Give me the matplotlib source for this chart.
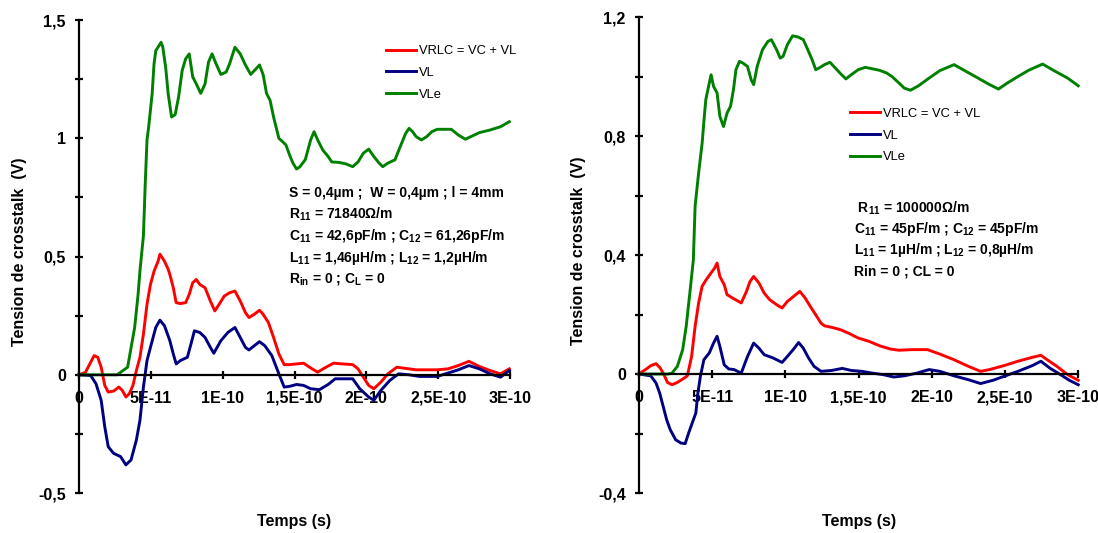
#!/usr/bin/env python3
"""Crosstalk voltage vs time, two parameter sets side by side."""

import numpy as np
import matplotlib
matplotlib.use("Agg")
import matplotlib.pyplot as plt

plt.rcParams["font.family"] = ["Liberation Sans", "DejaVu Sans"]
plt.rcParams["mathtext.fontset"] = "custom"
plt.rcParams["mathtext.rm"] = "Liberation Sans:bold"
plt.rcParams["mathtext.it"] = "Liberation Sans:bold"
plt.rcParams["mathtext.bf"] = "Liberation Sans:bold"

T_UNIT = 1e-11  # time arrays below are in units of 1E-11 s

# ---- left panel -------------------------------------------------------
left_vle_t = [0, 2.65, 3.38, 3.87, 4.11, 4.24, 4.48, 4.60, 4.73, 4.85, 5.09, 5.22, 5.34, 5.71,
              5.83, 6.03, 6.20, 6.44, 6.69, 6.93, 7.18, 7.42, 7.67, 7.91, 8.16, 8.47, 8.77, 9.01,
              9.26, 9.50, 9.87, 10.24, 10.48, 10.85, 11.22, 11.58, 11.95, 12.32, 12.56, 12.81,
              13.05, 13.30, 13.54, 13.91, 14.16, 14.40, 14.65, 14.89, 15.14, 15.38, 15.75, 16.12,
              16.36, 16.61, 16.97, 17.34, 17.59, 18.08, 18.56, 19.05, 19.42, 19.79, 20.16, 20.52,
              20.89, 21.14, 21.50, 21.99, 22.36, 22.73, 22.97, 23.22, 23.46, 23.83, 24.20, 24.56,
              24.93, 25.91, 26.40, 26.89, 27.38, 27.87, 28.61, 29.34, 29.95]
left_vle = [0, 0, 0.032, 0.2, 0.34, 0.44, 0.587, 0.797, 0.993, 1.05, 1.19, 1.315, 1.37, 1.406,
            1.385, 1.30, 1.19, 1.09, 1.10, 1.175, 1.287, 1.336, 1.357, 1.26, 1.23, 1.19, 1.23,
            1.322, 1.357, 1.32, 1.27, 1.28, 1.315, 1.385, 1.357, 1.31, 1.27, 1.294, 1.31, 1.27,
            1.19, 1.16, 1.09, 1.0, 0.986, 0.972, 0.93, 0.895, 0.87, 0.88, 0.91, 0.993, 1.028,
            0.993, 0.95, 0.923, 0.9, 0.898, 0.892, 0.88, 0.9, 0.937, 0.954, 0.923, 0.895, 0.88,
            0.895, 0.909, 0.965, 1.02, 1.042, 1.028, 1.007, 0.993, 1.007, 1.028, 1.038, 1.038,
            1.014, 0.996, 1.01, 1.024, 1.035, 1.049, 1.07]

left_vrlc_t = [0, 0.44, 0.81, 1.05, 1.30, 1.54, 1.79, 2.03, 2.40, 2.77, 3.01, 3.26, 3.50, 3.75,
               3.99, 4.24, 4.48, 4.73, 4.97, 5.22, 5.50, 5.63, 5.93, 6.20, 6.32, 6.56, 6.76, 7.05,
               7.42, 7.67, 7.91, 8.16, 8.40, 8.77, 9.14, 9.45, 9.75, 10.11, 10.48, 10.85, 11.22,
               11.58, 11.83, 12.20, 12.56, 12.81, 13.18, 13.54, 13.91, 14.28, 14.65, 15.14, 15.63,
               16.12, 16.61, 17.10, 17.71, 18.32, 19.05, 19.42, 19.79, 20.16, 20.52, 21.01, 21.50,
               22.12, 22.48, 23.46, 24.93, 25.67, 26.40, 27.14, 27.87, 28.61, 29.34, 29.95]
left_vrlc = [0, 0.01, 0.053, 0.081, 0.074, 0.032, -0.045, -0.073, -0.069, -0.052, -0.066, -0.094,
             -0.08, -0.045, 0.018, 0.074, 0.172, 0.298, 0.382, 0.438, 0.48, 0.51, 0.482, 0.447,
             0.424, 0.368, 0.305, 0.301, 0.305, 0.34, 0.389, 0.403, 0.382, 0.368, 0.312, 0.27,
             0.298, 0.333, 0.347, 0.354, 0.312, 0.263, 0.242, 0.256, 0.273, 0.256, 0.221, 0.158,
             0.088, 0.043, 0.043, 0.046, 0.049, 0.029, 0.011, 0.029, 0.049, 0.046, 0.043, 0.025,
             -0.01, -0.045, -0.059, -0.031, 0.004, 0.032, 0.029, 0.021, 0.021, 0.025, 0.039, 0.057,
             0.035, 0.018, 0.004, 0.025]

left_vl_t = [0, 0.81, 1.18, 1.54, 1.79, 2.03, 2.40, 2.89, 3.26, 3.62, 3.99, 4.24, 4.48, 4.73,
             4.97, 5.34, 5.63, 5.95, 6.32, 6.56, 6.76, 7.05, 7.54, 7.79, 8.03, 8.40, 8.77, 9.14,
             9.38, 9.87, 10.36, 10.85, 11.22, 11.58, 11.83, 12.20, 12.56, 12.93, 13.42, 13.91,
             14.28, 14.65, 15.14, 15.63, 16.12, 16.73, 17.34, 17.83, 18.56, 19.05, 19.54, 20.16,
             20.52, 21.01, 21.63, 22.24, 22.97, 23.71, 24.93, 25.67, 26.40, 27.14, 27.87, 28.61,
             29.34, 29.95]
left_vl = [0, -0.003, -0.038, -0.108, -0.22, -0.304, -0.332, -0.346, -0.381, -0.36, -0.276,
           -0.192, -0.052, 0.06, 0.116, 0.2, 0.231, 0.207, 0.144, 0.088, 0.046, 0.06, 0.074, 0.13,
           0.186, 0.179, 0.158, 0.116, 0.091, 0.144, 0.179, 0.2, 0.158, 0.116, 0.105, 0.123, 0.14,
           0.123, 0.081, 0.004, -0.052, -0.049, -0.041, -0.045, -0.059, -0.063, -0.041, -0.017,
           -0.017, -0.017, -0.059, -0.094, -0.108, -0.066, -0.024, 0.004, 0, -0.007, -0.007,
           0.007, 0.021, 0.039, 0.025, 0.004, -0.01, 0.018]

# ---- right panel ------------------------------------------------------
right_vle_t = [0, 2.0, 2.25, 2.62, 2.98, 3.22, 3.47, 3.71, 3.83, 4.07, 4.31, 4.43, 4.56, 4.75,
               4.92, 5.09, 5.33, 5.52, 5.77, 6.01, 6.25, 6.45, 6.62, 6.86, 7.10, 7.41, 7.66, 7.83,
               8.07, 8.43, 8.80, 9.04, 9.40, 9.64, 9.84, 10.13, 10.49, 10.86, 11.22, 11.53, 11.82,
               12.07, 12.31, 12.67, 13.04, 13.40, 13.76, 14.13, 14.49, 14.97, 15.46, 15.94, 16.43,
               16.91, 17.28, 17.76, 18.12, 18.54, 19.09, 19.82, 20.55, 21.52, 22.24, 22.97, 23.94,
               24.55, 25.15, 25.88, 26.61, 27.57, 28.30, 29.27, 30.0]
right_vle = [0, 0, 0.003, 0.026, 0.082, 0.16, 0.272, 0.384, 0.564, 0.676, 0.776, 0.849, 0.922,
             0.967, 1.006, 0.967, 0.945, 0.866, 0.832, 0.877, 0.9, 0.956, 1.023, 1.051, 1.045,
             1.034, 0.989, 0.973, 1.034, 1.09, 1.118, 1.124, 1.09, 1.062, 1.068, 1.107, 1.137,
             1.133, 1.124, 1.09, 1.057, 1.023, 1.029, 1.04, 1.048, 1.029, 1.01, 0.992, 1.006,
             1.023, 1.031, 1.026, 1.021, 1.012, 1.0, 0.978, 0.961, 0.954, 0.969, 0.995, 1.02,
             1.04, 1.02, 1.0, 0.973, 0.958, 0.978, 1.0, 1.021, 1.042, 1.021, 0.995, 0.969]

right_vrlc_t = [0, 0.44, 0.80, 1.16, 1.45, 1.70, 1.94, 2.25, 2.62, 2.98, 3.30, 3.59, 3.83, 4.07,
                4.31, 4.56, 4.92, 5.16, 5.33, 5.52, 5.82, 6.01, 6.37, 6.98, 7.34, 7.58, 7.83, 8.19,
                8.55, 8.92, 9.40, 9.77, 10.13, 10.56, 10.98, 11.34, 11.70, 12.07, 12.43, 12.67,
                13.16, 13.76, 14.37, 14.97, 15.70, 16.43, 17.16, 17.76, 18.61, 19.70, 20.55, 21.52,
                22.49, 23.33, 23.94, 24.91, 25.88, 26.85, 27.45, 27.82, 28.54, 29.27, 30.0]
right_vrlc = [0, 0.015, 0.028, 0.035, 0.02, -0.002, -0.028, -0.036, -0.028, -0.017, -0.006,
              0.059, 0.16, 0.239, 0.295, 0.315, 0.34, 0.356, 0.373, 0.328, 0.3, 0.267, 0.256,
              0.239, 0.278, 0.311, 0.328, 0.306, 0.272, 0.25, 0.233, 0.222, 0.244, 0.261, 0.278,
              0.256, 0.227, 0.199, 0.171, 0.162, 0.157, 0.149, 0.136, 0.121, 0.11, 0.095, 0.084,
              0.08, 0.082, 0.082, 0.067, 0.048, 0.026, 0.009, 0.015, 0.028, 0.043, 0.056, 0.063,
              0.05, 0.026, -0.002, -0.021]

right_vl_t = [0, 0.80, 1.16, 1.41, 1.65, 1.89, 2.13, 2.50, 2.86, 3.15, 3.39, 3.63, 3.88, 4.02,
              4.19, 4.43, 4.80, 5.09, 5.33, 5.52, 5.82, 6.13, 6.49, 6.98, 7.41, 7.83, 8.19, 8.55,
              9.16, 9.77, 10.13, 10.61, 10.90, 11.22, 11.58, 11.95, 12.43, 13.16, 13.88, 14.49,
              15.22, 15.94, 16.67, 17.40, 18.12, 18.97, 19.82, 20.55, 21.52, 22.49, 23.33, 24.18,
              24.91, 25.88, 26.85, 27.45, 28.06, 28.79, 29.39, 30.0]
right_vl = [0, -0.006, -0.03, -0.064, -0.109, -0.154, -0.187, -0.221, -0.232, -0.234, -0.198,
            -0.165, -0.131, -0.064, -0.008, 0.048, 0.071, 0.104, 0.127, 0.093, 0.031, 0.017,
            0.015, 0.003, 0.059, 0.104, 0.087, 0.065, 0.054, 0.039, 0.059, 0.087, 0.106, 0.087,
            0.054, 0.026, 0.009, 0.012, 0.019, 0.012, 0.009, 0.003, -0.002, -0.01, -0.006, 0.003,
            0.015, 0.009, -0.006, -0.019, -0.032, -0.021, -0.008, 0.009, 0.028, 0.043, 0.02,
            -0.002, -0.021, -0.036]

# ---- ticks and text ---------------------------------------------------
x_ticks = [0, 5e-11, 1e-10, 1.5e-10, 2e-10, 2.5e-10, 3e-10]
x_tick_labels = ["0", "5E-11", "1E-10", "1,5E-10", "2E-10", "2,5E-10", "3E-10"]

left_y_ticks = [-0.5, 0, 0.5, 1, 1.5]
left_y_labels = ["-0,5", "0", "0,5", "1", "1,5"]
left_y_minor = [-0.25, 0.25, 0.75, 1.25]

right_y_ticks = [-0.4, 0, 0.4, 0.8, 1.2]
right_y_labels = ["-0,4", "0", "0,4", "0,8", "1,2"]
right_y_minor = [-0.2, 0.2, 0.6, 1.0]

series_labels = ["VRLC = VC + VL", "VL", "VLe"]
series_colors = ["#FF0000", "#000080", "#008000"]

left_notes = [
    "S = 0,4µm ;  W = 0,4µm ; l = 4mm",
    r"R$_{11}$ = 71840Ω/m",
    r"C$_{11}$ = 42,6pF/m ; C$_{12}$ = 61,26pF/m",
    r"L$_{11}$ = 1,46µH/m ; L$_{12}$ = 1,2µH/m",
    r"R$_{in}$ = 0 ; C$_{L}$ = 0",
]
right_notes = [
    r" R$_{11}$ = 100000Ω/m",
    r"C$_{11}$ = 45pF/m ; C$_{12}$ = 45pF/m",
    r"L$_{11}$ = 1µH/m ; L$_{12}$ = 0,8µH/m",
    "Rin = 0 ; CL = 0",
]


def draw_panel(ax, curves, ylim, yticks, ylabels, yminor, leg_xy, notes, note_x, note_y0, note_dy):
    for (t, v), lab, col in zip(curves, series_labels, series_colors):
        ax.plot(np.array(t) * T_UNIT, v, color=col, lw=2.1, label=lab,
                solid_joinstyle="round", clip_on=False)

    ax.set_xlim(0, 3e-10)
    ax.set_ylim(*ylim)
    ax.spines["top"].set_visible(False)
    ax.spines["right"].set_visible(False)
    ax.spines["bottom"].set_position(("data", 0))
    for s in ("left", "bottom"):
        ax.spines[s].set_linewidth(1.6)

    ax.set_xticks(x_ticks)
    ax.set_xticklabels(x_tick_labels, fontsize=11.5, fontweight="bold")
    ax.set_yticks(yticks)
    ax.set_yticklabels(ylabels, fontsize=11.5, fontweight="bold")
    ax.set_yticks(yminor, minor=True)
    ax.tick_params(axis="both", which="both", direction="inout", length=6, width=1.6)
    ax.tick_params(axis="x", pad=8.5)
    ax.tick_params(axis="y", pad=6.5)

    ax.set_xlabel("Temps (s)", fontsize=11.5, fontweight="bold")
    ax.xaxis.set_label_coords(0.5, -0.044)
    ax.set_ylabel("Tension de crosstalk  (V)", fontsize=11.5, fontweight="bold")
    ax.yaxis.set_label_coords(-0.12, 0.51)

    ax.legend(loc="upper left", bbox_to_anchor=leg_xy, frameon=False, fontsize=9.3,
              handlelength=2.3, handletextpad=0.25, labelspacing=0.75,
              borderpad=0, borderaxespad=0)

    for i, line in enumerate(notes):
        ax.text(note_x, note_y0 - i * note_dy, line, transform=ax.transAxes,
                fontsize=10, fontweight="bold", va="center", ha="left")


fig = plt.figure(figsize=(10.98, 5.33), dpi=100)
ax_l = fig.add_axes([0.072, 0.075, 0.3925, 0.8874])
ax_r = fig.add_axes([0.582, 0.075, 0.40, 0.893])

draw_panel(ax_l,
           [(left_vrlc_t, left_vrlc), (left_vl_t, left_vl), (left_vle_t, left_vle)],
           (-0.5, 1.5), left_y_ticks, left_y_labels, left_y_minor,
           (0.712, 0.947), left_notes, 0.487, (493 - 193) / 473, 21.5 / 473)

draw_panel(ax_r,
           [(right_vrlc_t, right_vrlc), (right_vl_t, right_vl), (right_vle_t, right_vle)],
           (-0.4, 1.2), right_y_ticks, right_y_labels, right_y_minor,
           (0.48, 0.809), right_notes, 0.49, (493 - 208) / 476, 21 / 476)

fig.savefig("out.png", dpi=100)
